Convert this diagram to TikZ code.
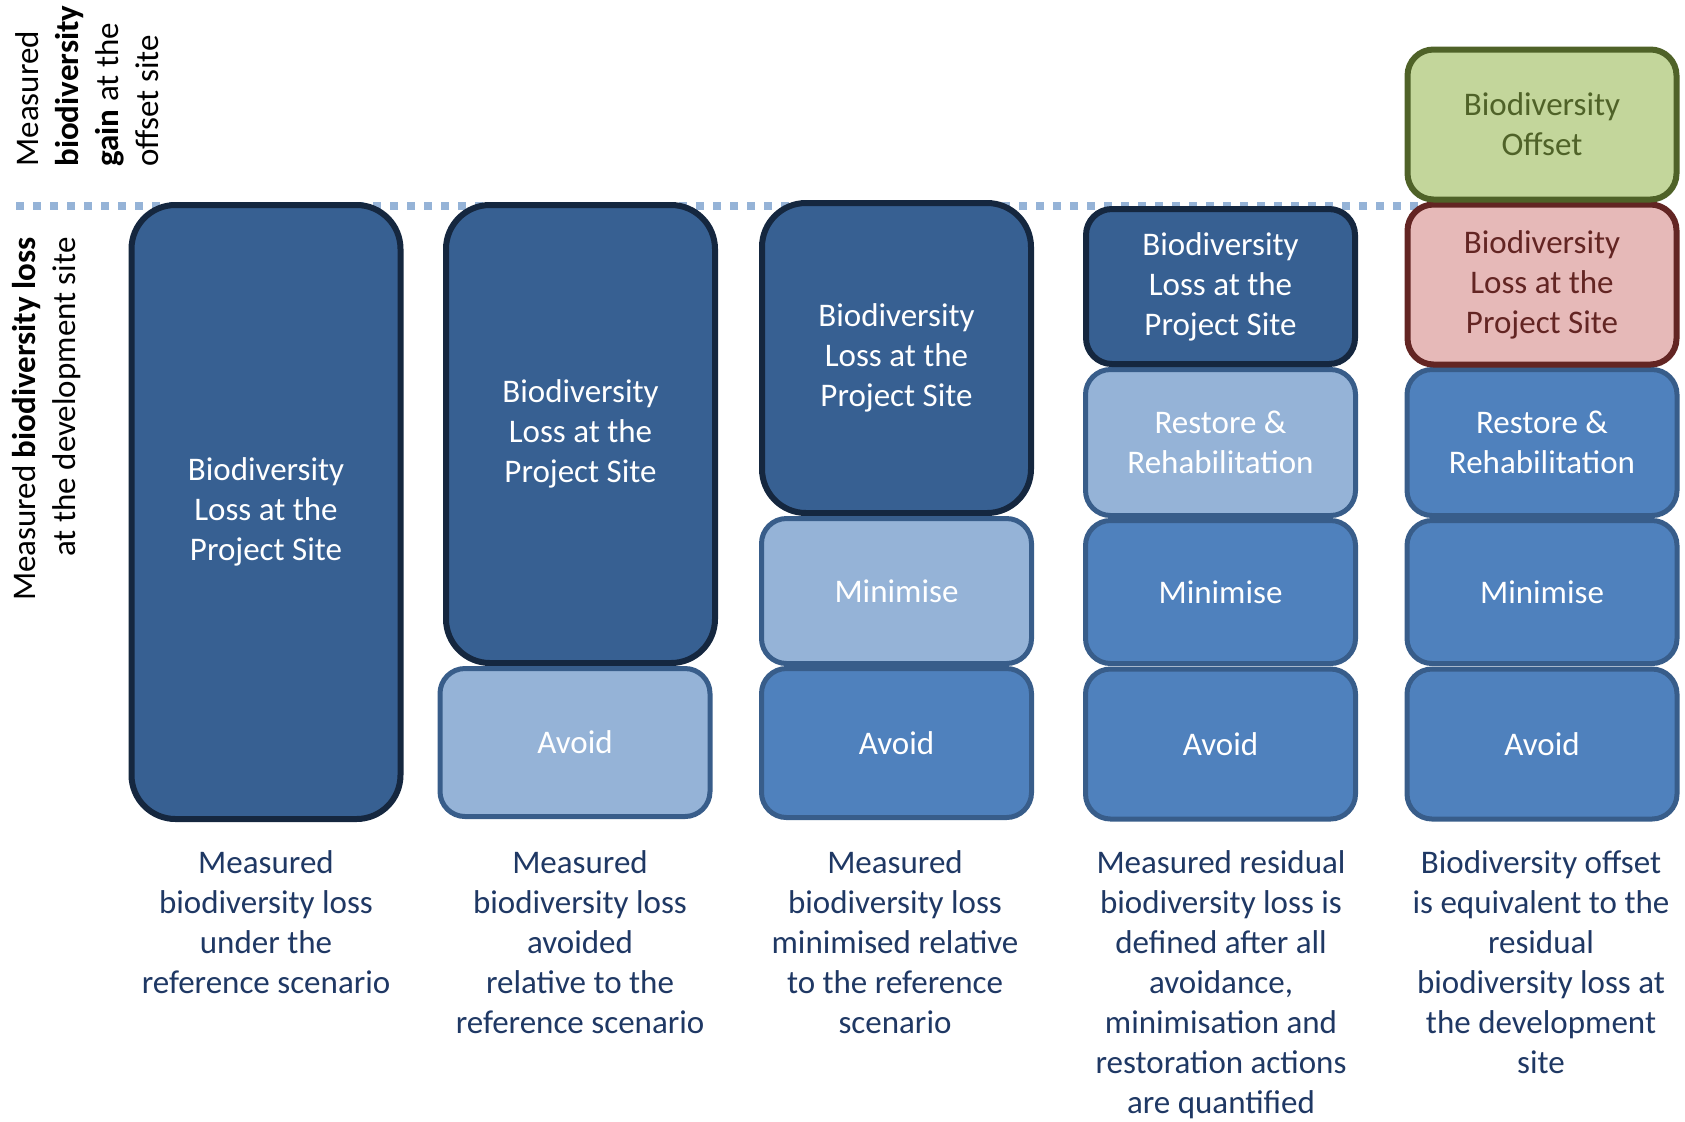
\documentclass[tikz,border=0pt]{standalone}
\usepackage{fontspec}
\setmainfont{Carlito}

\definecolor{lossblue}{HTML}{376092}
\definecolor{lossedge}{HTML}{15273F}
\definecolor{paleblue}{HTML}{95B3D7}
\definecolor{midblue}{HTML}{4F81BD}
\definecolor{midedge}{HTML}{385D8A}
\definecolor{offsetred}{HTML}{E6B9B8}
\definecolor{offsetredge}{HTML}{632523}
\definecolor{offsetgreen}{HTML}{C3D69B}
\definecolor{offsetgedge}{HTML}{4F6228}
\definecolor{captext}{HTML}{1F3864}

\begin{document}
\begin{tikzpicture}[x=0.5pt,y=-0.5pt,
    txt/.style={font=\fontsize{16.5}{20}\selectfont},
    box/.style={txt,rounded corners=12.5pt,line width=2.5pt,minimum width=135pt,inner sep=0pt,align=center,text=white},
    dark/.style={box,fill=lossblue,draw=lossedge,line width=3pt,minimum width=134.5pt},
    pale/.style={box,fill=paleblue,draw=midedge},
    mid/.style={box,fill=midblue,draw=midedge},
    residual/.style={box,fill=offsetred,draw=offsetredge,text=offsetredge,line width=3pt,minimum width=134.5pt},
    gain/.style={box,fill=offsetgreen,draw=offsetgedge,text=offsetgedge,line width=3pt,minimum width=134.5pt},
    caption/.style={txt,anchor=north,align=center,text=captext,inner sep=0pt},
    side/.style={txt,rotate=90,inner sep=0pt}]
    \useasboundingbox (0,0) rectangle (1685,1121);

    % level of no net loss
    \coordinate (lvl-l) at (16,206);
    \coordinate (lvl-r) at (1420,206);
    \draw[paleblue,line width=4pt,dash pattern=on 4pt off 4.5pt](lvl-l)--(lvl-r);

    \node[side,anchor=north west,align=left] (gainlbl) at (15,167)
        {Measured\\\textbf{biodiversity}\\\textbf{gain} at the\\offset site};
    \node[side,anchor=north east,align=right] (losslbl) at (12,237)
        {Measured \textbf{biodiversity loss}\\at the development site};

    % reference scenario
    \node[dark,rounded corners=22pt,minimum height=307pt] (ref) at (266,512) {Biodiversity\\Loss at the\\Project Site};

    % avoid
    \node[dark,rounded corners=22pt,minimum height=229pt] (avloss) at (580.5,434) {Biodiversity\\Loss at the\\Project Site};
    \node[pale,minimum height=74pt] (avavoid) at (575,742.5) {Avoid};

    % minimise
    \node[dark,rounded corners=22pt,minimum height=155pt] (mnloss) at (896.5,358) {Biodiversity\\Loss at the\\Project Site};
    \node[pale,minimum height=72.5pt] (mnmin) at (896.5,591) {Minimise};
    \node[mid,minimum height=74.5pt] (mnavoid) at (896.5,743) {Avoid};

    % restore
    \node[mid,minimum height=71.5pt] (rsmin) at (1220.5,592) {Minimise};
    \node[mid,minimum height=75pt] (rsavoid) at (1220.5,744) {Avoid};
    \node[pale,minimum height=73pt] (rsrest) at (1220.5,442.5) {Restore \&\\Rehabilitation};
    \node[dark,rounded corners=13pt,minimum height=77.5pt] (rsloss) at (1220.5,286.5) {Biodiversity\\Loss at the\\Project Site};

    % offset
    \node[mid,minimum height=71.5pt] (ofmin) at (1542,592) {Minimise};
    \node[mid,minimum height=75pt] (ofavoid) at (1542,744) {Avoid};
    \node[mid,minimum height=73pt] (ofrest) at (1542,442.5) {Restore \&\\Rehabilitation};
    \node[residual,rounded corners=13pt,minimum height=80pt] (ofloss) at (1542,284.5) {Biodiversity\\Loss at the\\Project Site};
    \node[gain,rounded corners=13pt,minimum height=75pt] (ofgain) at (1542,124.5) {Biodiversity\\Offset};

    \node[caption] (refcap) at (266,850) {Measured\\biodiversity loss\\under the\\reference scenario};
    \node[caption] (avcap) at (580,850) {Measured\\biodiversity loss\\avoided\\relative to the\\reference scenario};
    \node[caption] (mncap) at (895,850) {Measured\\biodiversity loss\\minimised relative\\to the reference\\scenario};
    \node[caption] (rscap) at (1221,850) {Measured residual\\biodiversity loss is\\defined after all\\avoidance,\\minimisation and\\restoration actions\\are quantified};
    \node[caption] (ofcap) at (1541,850) {Biodiversity offset\\is equivalent to the\\residual\\biodiversity loss at\\the development\\site};
\end{tikzpicture}
\end{document}
